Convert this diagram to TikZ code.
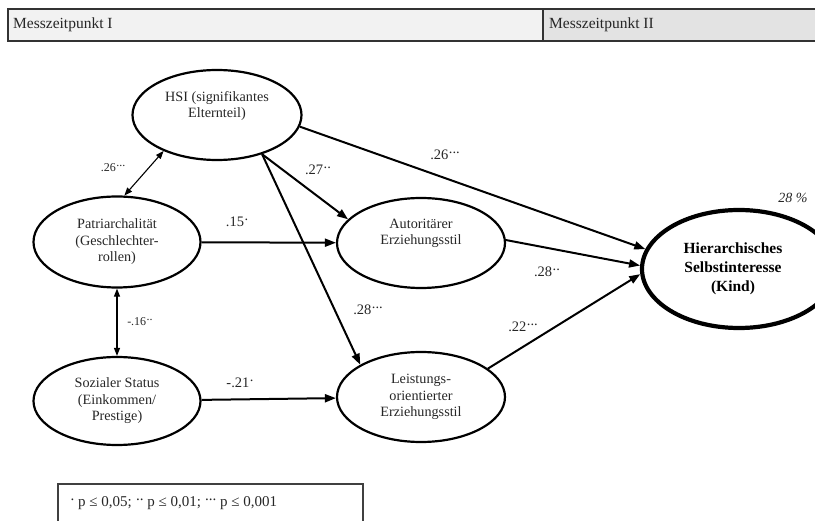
\documentclass[tikz,border=0pt]{standalone}
\usepackage{fontspec}
\setmainfont{Liberation Serif}
\usetikzlibrary{shapes.geometric,arrows.meta}
\newcommand{\sigdots}[1]{\raisebox{0.42em}{\kern0.5pt#1}}
\begin{document}
\begin{tikzpicture}[x=1pt,y=-1pt,
  var/.style={ellipse, draw=black, line width=2.2pt, inner sep=0pt, align=center,
    font=\fontsize{14.2}{16.5}\selectfont, text=black!85},
  pathar/.style={line width=2pt, -{Triangle[length=11pt,width=8pt]}},
  corr/.style={line width=1.1pt, {Triangle[length=8pt,width=6pt]}-{Triangle[length=8pt,width=6pt]}},
  coef/.style={font=\fontsize{14.5}{17}\selectfont, text=black!85, inner sep=0pt},
  smallcoef/.style={font=\fontsize{12}{14}\selectfont, text=black!85, inner sep=0pt},
  hdr/.style={font=\fontsize{15.5}{18}\selectfont, text=black!85, inner sep=0pt, anchor=west}
]
\useasboundingbox (0,0) rectangle (815,521);

% header
\path[fill=black!5, draw=black!80, line width=1.3pt] (8,9) rectangle (543,41);
\path[fill=black!11, draw=black!80, line width=1.3pt] (543,9) rectangle (822,41);
\node[hdr] (h1) at (13,25) {Messzeitpunkt I};
\node[hdr] (h2) at (549,25) {Messzeitpunkt II};

% variables
\node[var, minimum width=169pt, minimum height=90pt] (hsi) at (217,115) {HSI (signifikantes\\Elternteil)\\[4pt]};
\node[var, minimum width=167pt, minimum height=91pt] (pat) at (117,242) {Patriarchalität\\(Geschlechter-\\rollen)};
\node[var, minimum width=167pt, minimum height=88pt] (soz) at (117,401) {Sozialer Status\\(Einkommen/\\Prestige)};
\node[var, minimum width=168pt, minimum height=90pt] (aut) at (421,243) {Autoritärer\\Erziehungsstil\\[6pt]};
\node[var, minimum width=168pt, minimum height=90pt] (lei) at (421,397) {Leistungs-\\orientierter\\Erziehungsstil};
\node[var, line width=4.2pt, minimum width=194pt, minimum height=118pt,
      font=\bfseries\fontsize{15.5}{19}\selectfont, text=black] (hier) at (739,269)
      {\hspace*{-12pt}Hierarchisches\\\hspace*{-12pt}Selbstinteresse\\\hspace*{-12pt}(Kind)};
\node[coef, font=\itshape\fontsize{14}{16}\selectfont] (r2) at (793,198) {28 \%};

% correlations
\draw[corr] (pat.81) -- (hsi.214);
\draw[corr] (pat.south) -- (soz.north);

% paths
\draw[pathar] (pat) -- (aut);
\draw[pathar] (soz) -- (lei);
\draw[pathar] (hsi.-41) -- (aut.162);
\draw[pathar] (hsi.-41) -- (lei.152);
\draw[pathar] (hsi.-8) -- (hier.168);
\draw[pathar] (aut.2) -- (hier.178);
\draw[pathar] (lei.23) -- (hier.183);

% coefficients
\node[smallcoef] (c1) at (113,168) {.26\sigdots{...}};
\node[smallcoef] (c2) at (140,322) {-.16\sigdots{..}};
\node[coef] (c3) at (237,222) {.15\sigdots{.}};
\node[coef] (c4) at (240,383) {-.21\sigdots{.}};
\node[coef] (c5) at (318,170) {.27\sigdots{..}};
\node[coef] (c6) at (368,310) {.28\sigdots{...}};
\node[coef] (c7) at (445,155) {.26\sigdots{...}};
\node[coef] (c8) at (547,272) {.28\sigdots{..}};
\node[coef] (c9) at (523,327) {.22\sigdots{...}};

% legend
\draw[line width=1.1pt, black!75] (58,530) -- (58,484) -- (363,484) -- (363,530);
\node[coef, anchor=west, font=\fontsize{15}{18}\selectfont] (leg) at (70,503)
  {\sigdots{.} p ≤ 0,05; \sigdots{..} p ≤ 0,01; \sigdots{...} p ≤ 0,001};
\end{tikzpicture}
\end{document}
